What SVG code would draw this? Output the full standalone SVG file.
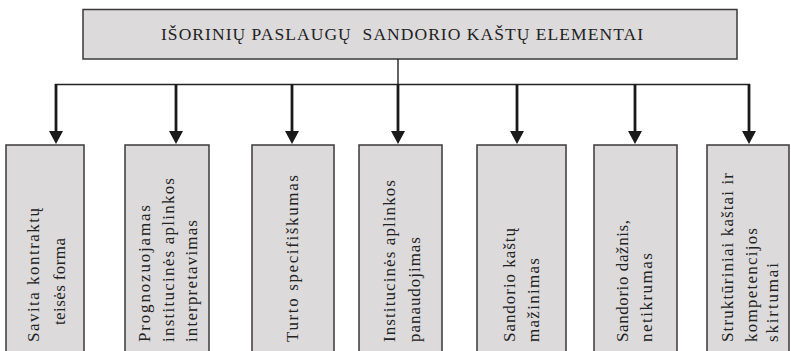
<svg xmlns="http://www.w3.org/2000/svg" width="791" height="351" viewBox="0 0 791 351">
<style>
.box{fill:#dcdadb;stroke:#3a3a3a;stroke-width:1.5}
.title{font-family:"Liberation Serif","Times New Roman",serif;font-size:17.5px;fill:#222;white-space:pre}
.lbl{font-family:"Liberation Serif","Times New Roman",serif;font-size:17px;fill:#222}
.thin{stroke:#222;stroke-width:1.4;fill:none}
.arr{stroke:#1a1a1a;stroke-width:2.8;fill:none;marker-end:url(#ah)}
</style>
<defs>
<marker id="ah" markerUnits="userSpaceOnUse" markerWidth="14" markerHeight="15" refX="0" refY="7" orient="auto" viewBox="0 0 14 14">
<path d="M0,0 L13,7 L0,14 z" fill="#1a1a1a"/>
</marker>
</defs>
<rect width="791" height="351" fill="#fff"/>
<g id="top">
<rect class="box" x="83" y="9.5" width="654" height="49.5" stroke="#555" stroke-width="2"/>
<text class="title" x="161" y="40" textLength="482" lengthAdjust="spacing" xml:space="preserve">IŠORINIŲ PASLAUGŲ  SANDORIO KAŠTŲ ELEMENTAI</text>
</g>
<g id="connectors">
<line class="thin" x1="398" y1="59" x2="398" y2="84.5"/>
<line class="thin" x1="55" y1="84.5" x2="750" y2="84.5"/>
<line class="arr" x1="56" y1="84" x2="56" y2="131"/>
<line class="arr" x1="176" y1="84" x2="176" y2="131"/>
<line class="arr" x1="292" y1="84" x2="292" y2="131"/>
<line class="arr" x1="398" y1="84" x2="398" y2="131"/>
<line class="arr" x1="517" y1="84" x2="517" y2="131"/>
<line class="arr" x1="635" y1="84" x2="635" y2="131"/>
<line class="arr" x1="749" y1="84" x2="749" y2="131"/>
</g>
<g id="n1">
<rect class="box" x="6" y="145" width="78" height="220"/>
<text class="lbl" transform="translate(38.5,342) rotate(-90)" textLength="134" lengthAdjust="spacing">Savita kontraktų</text>
<text class="lbl" transform="translate(65,325) rotate(-90)" textLength="87" lengthAdjust="spacing">teisės forma</text>
</g>
<g id="n2">
<rect class="box" x="125" y="145" width="84" height="220"/>
<text class="lbl" transform="translate(150,342) rotate(-90)" textLength="137" lengthAdjust="spacing">Prognozuojamas</text>
<text class="lbl" transform="translate(174,342) rotate(-90)" textLength="164" lengthAdjust="spacing">institucinės aplinkos</text>
<text class="lbl" transform="translate(197,342) rotate(-90)" textLength="122" lengthAdjust="spacing">interpretavimas</text>
</g>
<g id="n3">
<rect class="box" x="252" y="145" width="82" height="220"/>
<text class="lbl" transform="translate(298,342) rotate(-90)" textLength="167" lengthAdjust="spacing">Turto specifiškumas</text>
</g>
<g id="n4">
<rect class="box" x="359" y="145" width="83" height="220"/>
<text class="lbl" transform="translate(395,342) rotate(-90)" textLength="162" lengthAdjust="spacing">Institucinės aplinkos</text>
<text class="lbl" transform="translate(420,342) rotate(-90)" textLength="105" lengthAdjust="spacing">panaudojimas</text>
</g>
<g id="n5">
<rect class="box" x="477" y="145" width="89" height="220"/>
<text class="lbl" transform="translate(515,342) rotate(-90)" textLength="114" lengthAdjust="spacing">Sandorio kaštų</text>
<text class="lbl" transform="translate(539,342) rotate(-90)" textLength="84" lengthAdjust="spacing">mažinimas</text>
</g>
<g id="n6">
<rect class="box" x="594" y="145" width="83" height="220"/>
<text class="lbl" transform="translate(628,342) rotate(-90)" textLength="122" lengthAdjust="spacing">Sandorio dažnis,</text>
<text class="lbl" transform="translate(652,342) rotate(-90)" textLength="89" lengthAdjust="spacing">netikrumas</text>
</g>
<g id="n7">
<rect class="box" x="707" y="145" width="82" height="220"/>
<text class="lbl" transform="translate(733,342) rotate(-90)" textLength="169" lengthAdjust="spacing">Struktūriniai kaštai ir</text>
<text class="lbl" transform="translate(757,342) rotate(-90)" textLength="114" lengthAdjust="spacing">kompetencijos</text>
<text class="lbl" transform="translate(778,342) rotate(-90)" textLength="79" lengthAdjust="spacing">skirtumai</text>
</g>
</svg>
